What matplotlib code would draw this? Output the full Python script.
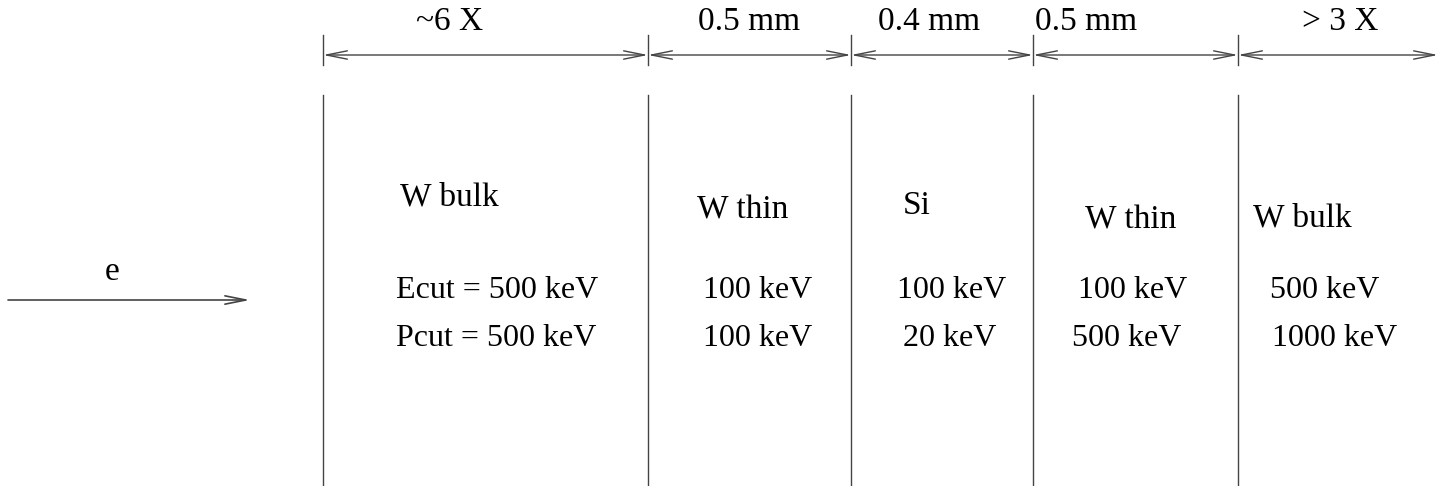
import matplotlib.pyplot as plt

plt.rcParams['font.family'] = ['Liberation Serif', 'DejaVu Serif']

# layer boundaries (pixel positions in the drawing)
bounds = [323, 648, 851, 1033, 1238]
dim_end = 1438
dim_labels = ['~6 X', '0.5 mm', '0.4 mm', '0.5 mm', '> 3 X']
dim_label_x = [450, 749, 929, 1086, 1340]

materials = ['W bulk', 'W thin', 'Si', 'W thin', 'W bulk']
mat_x = [400, 697, 903, 1085, 1253]
mat_y = [197, 210, 206, 220, 218]

ecut = ['Ecut = 500 keV', '100 keV', '100 keV', '100 keV', '500 keV']
ecut_x = [396, 703, 897, 1078, 1270]
pcut = ['Pcut = 500 keV', '100 keV', '20 keV', '500 keV', '1000 keV']
pcut_x = [396, 703, 903, 1072, 1272]

fig = plt.figure(figsize=(14.49, 4.86), dpi=100)
ax = fig.add_axes([0, 0, 1, 1])
ax.set_xlim(0, 1449)
ax.set_ylim(486, 0)
ax.axis('off')

lc = '#444444'
fs = 24

# dimension line on top
stops = bounds + [dim_end]
for i in range(len(bounds)):
    ax.annotate('', xy=(stops[i + 1], 55), xytext=(stops[i], 55),
                arrowprops=dict(arrowstyle='<->,head_length=1.5,head_width=0.3',
                                color=lc, lw=1, shrinkA=0, shrinkB=0))
    ax.text(dim_label_x[i], 22, dim_labels[i], fontsize=fs, ha='center', va='center')
for x in bounds:
    ax.plot([x, x], [35, 65], color=lc, lw=1)
    ax.plot([x, x], [95, 485], color=lc, lw=1)

# layer texts
for i in range(len(materials)):
    ax.text(mat_x[i], mat_y[i], materials[i], fontsize=fs, ha='left', va='center')
    ax.text(ecut_x[i], 290, ecut[i], fontsize=23, ha='left', va='center')
    ax.text(pcut_x[i], 338, pcut[i], fontsize=23, ha='left', va='center')

# incoming electron
ax.annotate('', xy=(250, 300), xytext=(8, 300),
            arrowprops=dict(arrowstyle='->,head_length=1.5,head_width=0.3',
                            color=lc, lw=1.2, shrinkA=0, shrinkB=0))
ax.text(112, 272, 'e', fontsize=fs, ha='center', va='center')

fig.savefig('out.png', dpi=100)
